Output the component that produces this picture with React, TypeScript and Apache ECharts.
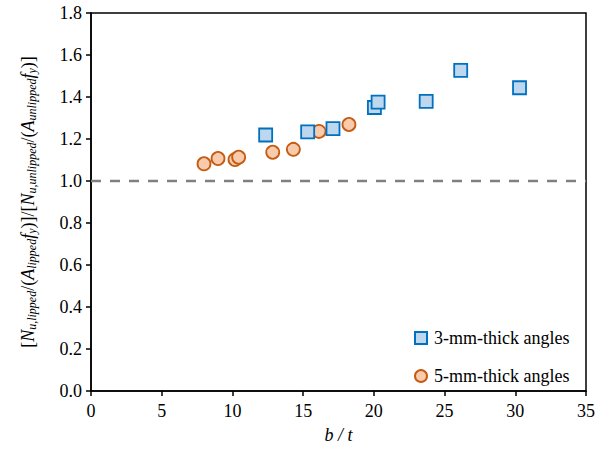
import React, { useEffect, useRef } from "react";
import * as echarts from "echarts";

const thin3X = [12.35, 15.32, 17.11, 20.04, 20.3, 23.7, 26.14, 30.3];
const thin3Y = [1.219, 1.234, 1.249, 1.35, 1.376, 1.379, 1.527, 1.444];
const thick5X = [7.99, 8.98, 10.18, 10.44, 12.85, 14.31, 16.12, 18.24];
const thick5Y = [1.082, 1.107, 1.102, 1.113, 1.137, 1.151, 1.236, 1.269];
const refLineY = 1.0;
const seriesNames = ["3-mm-thick angles", "5-mm-thick angles"];

const FONT = "Times New Roman, Liberation Serif, DejaVu Serif, serif";

export default function App() {
  const ref = useRef<HTMLDivElement>(null);
  useEffect(() => {
    if (!ref.current) return;
    const chart = echarts.init(ref.current, null, { renderer: "svg" });
    const pair = (xs: number[], ys: number[]) => xs.map((x, i) => [x, ys[i]]);
    const n = { fontSize: 18, fontFamily: FONT, color: "#000" };
    const it = { fontSize: 18, fontFamily: FONT, fontStyle: "italic", color: "#000" };
    const sub = { fontSize: 12, fontFamily: FONT, fontStyle: "italic", color: "#000", verticalAlign: "bottom", padding: [8, 0, 0, 0] };
    const yName =
      "{n|[}{i|N}{s|u,lipped}{n|/(}{i|A}{s|lipped}{i|f}{s|y}{n|)]/[}{i|N}{s|u,unlipped}{n|/(}{i|A}{s|unlipped}{i|f}{s|y}{n|)]}";
    chart.setOption({
      animation: false,
      textStyle: { fontFamily: FONT },
      grid: { left: 91, right: 22, top: 13, bottom: 55, show: true, borderColor: "#000", borderWidth: 1.5, containLabel: false },
      xAxis: {
        type: "value",
        min: 0,
        max: 35,
        interval: 5,
        name: "b / t",
        nameLocation: "middle",
        nameGap: 35,
        nameTextStyle: { ...it },
        axisLine: { show: true, lineStyle: { color: "#000", width: 1.5 } },
        axisTick: { show: true, length: 5, lineStyle: { color: "#000", width: 1.5 } },
        axisLabel: { ...n, margin: 11 },
        splitLine: { show: false },
      },
      yAxis: {
        type: "value",
        min: 0,
        max: 1.8,
        interval: 0.2,
        name: yName,
        nameLocation: "middle",
        nameRotate: 90,
        nameGap: 53,
        nameTextStyle: { ...n, rich: { n, i: it, s: sub } },
        axisLine: { show: true, lineStyle: { color: "#000", width: 1.5 } },
        axisTick: { show: true, length: 5, lineStyle: { color: "#000", width: 1.5 } },
        axisLabel: { ...n, margin: 9, formatter: (v: number) => v.toFixed(1) },
        splitLine: { show: false },
      },
      legend: {
        orient: "vertical",
        left: 414,
        top: 329,
        itemGap: 20,
        itemWidth: 12,
        itemHeight: 12,
        padding: 0,
        textStyle: { ...n, padding: [0, 0, 0, 2] },
        data: [
          { name: seriesNames[0], icon: "rect" },
          { name: seriesNames[1], icon: "circle" },
        ],
      },
      series: [
        {
          name: "ref",
          type: "line",
          data: [[0, refLineY], [35, refLineY]],
          showSymbol: false,
          symbol: "none",
          lineStyle: { color: "#808080", width: 2.5, type: [10, 9] },
          silent: true,
          z: 1,
        },
        {
          name: seriesNames[1],
          type: "scatter",
          data: pair(thick5X, thick5Y),
          symbol: "circle",
          symbolSize: 13,
          itemStyle: { color: "#F8CBAD", borderColor: "#C55A11", borderWidth: 1.8, opacity: 1 },
          z: 3,
        },
        {
          name: seriesNames[0],
          type: "scatter",
          data: pair(thin3X, thin3Y),
          symbol: "rect",
          symbolSize: 13,
          itemStyle: { color: "#BDD7EE", borderColor: "#0070C0", borderWidth: 1.8, opacity: 1 },
          z: 4,
        },
      ],
    });
    return () => chart.dispose();
  }, []);
  return <div ref={ref} style={{ width: 608, height: 449, position: "absolute", left: 0, top: 0 }} />;
}
